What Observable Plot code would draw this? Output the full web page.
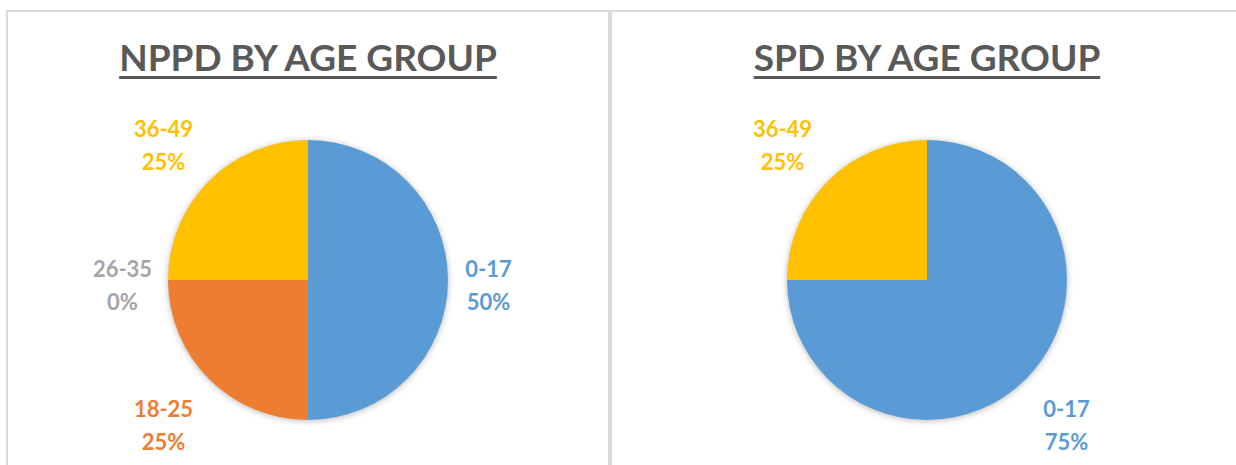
<!DOCTYPE html>
<html><head><meta charset="utf-8">
<script src="https://cdn.jsdelivr.net/npm/d3@7"></script>
<script src="https://cdn.jsdelivr.net/npm/@observablehq/plot@0.6"></script>
<style>
html,body{margin:0;padding:0;background:#fff;}
body{width:1236px;height:465px;overflow:hidden;position:relative;font-family:Lato,"Open Sans",sans-serif;}
.panel{position:absolute;top:10px;height:470px;border-top:2px solid #d9d9d9;border-left:2px solid #d9d9d9;border-right:2px solid #d9d9d9;}
.title{position:absolute;left:0;right:0;top:26px;text-align:center;font-size:37px;line-height:37px;font-weight:700;color:#595959;text-decoration:underline;text-decoration-thickness:3px;text-underline-offset:5px;white-space:nowrap;}
.chart{position:absolute;left:0;top:88px;}
</style></head><body>
<div id="p1" class="panel" style="left:6px;width:600px"></div>
<div id="p2" class="panel" style="left:610px;width:630px"></div>
<script>
const categories = ["0-17", "18-25", "26-35", "36-49"];
const categoryColors = ["#5B9BD5", "#ED7D31", "#A5A5A5", "#FFC000"];
const titles = ["NPPD BY AGE GROUP", "SPD BY AGE GROUP"];
const nppdLabels = ["0-17", "18-25", "26-35", "36-49"];
const nppdValues = [50, 25, 0, 25];
const spdLabels = ["0-17", "36-49"];
const spdValues = [75, 25];

const R = 140;

function makePie(labels, values, width, cx) {
  const data = labels.map((label, i) => ({label, value: values[i]}));
  const arcs = d3.pie().sort(null).value(d => d.value)(data);
  const total = d3.sum(values);
  const labelData = arcs.map(a => {
    const t = (a.startAngle + a.endAngle) / 2;
    const s = Math.sin(t), c = Math.cos(t);
    const sx = Math.abs(s) < 1e-6 ? 0 : Math.sign(s);
    const sy = Math.abs(c) < 1e-6 ? 0 : Math.sign(c);
    const pct = Math.round(a.data.value / total * 100) + "%";
    const chars = Math.max(a.data.label.length, pct.length);
    return {
      label: a.data.label,
      text: a.data.label + "\n" + pct,
      lx: s + sx * (6 * chars + 16) / R,
      ly: c + sy * 41 / R - 2.5 / R
    };
  });
  return Plot.plot({
    width, height: 365, margin: 0,
    x: {domain: [-1, 1], range: [cx - R, cx + R], axis: null},
    y: {domain: [-1, 1], range: [180 + R, 180 - R], axis: null},
    color: {domain: categories, range: categoryColors},
    style: {overflow: "visible", background: "transparent"},
    marks: [
      Plot.dot(data, {
        x: () => 0, y: () => 0, fill: "label",
        render(index, scales, values) {
          const x0 = scales.x(0), y0 = scales.y(0), r = scales.x(1) - scales.x(0);
          const arc = d3.arc().innerRadius(0).outerRadius(r);
          const g = d3.create("svg:g")
            .attr("transform", `translate(${x0},${y0})`)
            .style("filter", "drop-shadow(0px 1px 3px rgba(0,0,0,0.28))");
          g.selectAll("path").data(index).join("path")
            .attr("d", i => arc(arcs[i]))
            .attr("fill", i => values.fill[i]);
          return g.node();
        }
      }),
      Plot.text(labelData, {
        x: "lx", y: "ly", text: "text", fill: "label",
        fontSize: 22, fontWeight: "bold", fontFamily: "Lato",
        lineHeight: 1.5, textAnchor: "middle"
      })
    ]
  });
}

const panels = [
  {el: "p1", title: titles[0], labels: nppdLabels, values: nppdValues, width: 600, cx: 300},
  {el: "p2", title: titles[1], labels: spdLabels, values: spdValues, width: 630, cx: 315}
];
for (const p of panels) {
  const host = document.getElementById(p.el);
  const t = document.createElement("div");
  t.className = "title";
  t.textContent = p.title;
  host.appendChild(t);
  const c = document.createElement("div");
  c.className = "chart";
  c.appendChild(makePie(p.labels, p.values, p.width, p.cx));
  host.appendChild(c);
}
</script>
</body></html>
